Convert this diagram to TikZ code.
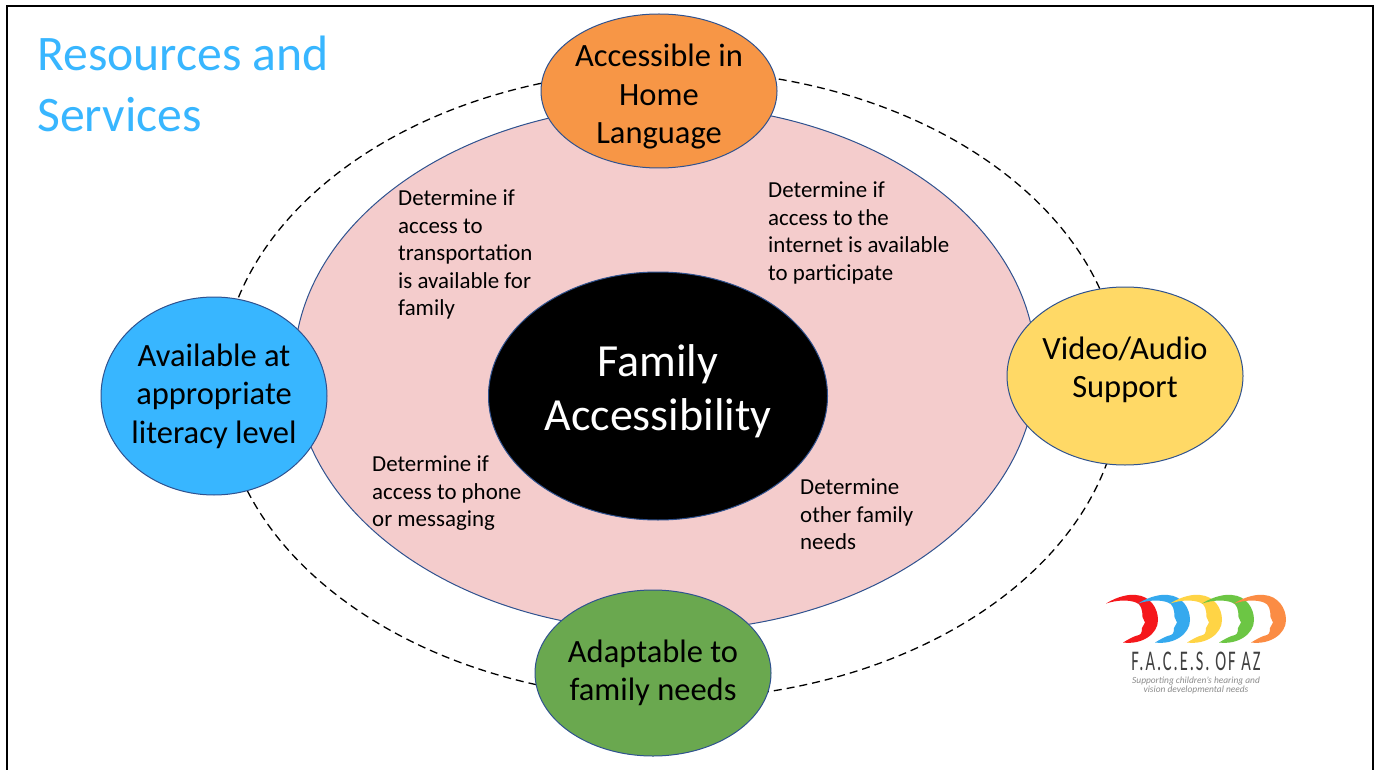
\documentclass[tikz,border=0pt]{standalone}
\usepackage{fontspec}
\setmainfont{Carlito}
\definecolor{pinkbg}{HTML}{F4CCCC}
\definecolor{skyb}{HTML}{38B6FF}
\definecolor{orangeb}{HTML}{F79646}
\definecolor{yellowb}{HTML}{FFD966}
\definecolor{greenb}{HTML}{6AA84F}
\definecolor{edgeb}{HTML}{2F528F}
\definecolor{logored}{HTML}{F5181C}
\definecolor{logoblue}{HTML}{35A9EE}
\definecolor{logoyellow}{HTML}{FFD445}
\definecolor{logogreen}{HTML}{6CC644}
\definecolor{logoorange}{HTML}{FB8C44}
\usetikzlibrary{shapes.geometric}
\tikzset{
  x=1pt,y=-1pt,
  blob/.style={draw=edgeb,line width=1pt,ellipse,inner sep=-30pt,align=center,text=black,font=\fontsize{32.5}{38.5}\selectfont},
  note/.style={anchor=north west,align=left,inner sep=0pt,text=black,font=\fontsize{22.9}{27.5}\selectfont},
}
\newcommand{\logoface}[2]{%
  \fill[#2,shift={(#1,0)}] (1106,603.5) .. controls (1118,596) and (1130,594) .. (1136,595)
    .. controls (1150,596) and (1158,608) .. (1158,620)
    .. controls (1158,634) and (1142,645) .. (1123,642.5)
    .. controls (1129,639) and (1134,636) .. (1139,635)
    .. controls (1142,634) and (1142,630) .. (1142,628)
    -- (1145,622.5) -- (1142.5,617)
    .. controls (1142.5,610) and (1141,604) .. (1136,602.5)
    .. controls (1128,599.5) and (1117,600) .. cycle;}
\begin{document}
\begin{tikzpicture}
\useasboundingbox (0,0) rectangle (1378,770);
\fill[white] (0,0) rectangle (1378,770);
\draw[line width=2pt,black] (7,775) -- (7,6) -- (1373,6) -- (1373,775);
\node[anchor=north west,inner sep=0pt,align=left,text=skyb,font=\fontsize{49.7}{61}\selectfont] (title) at (37,36) {Resources and\\Services};
\draw[dash pattern=on 8pt off 5pt,line width=1.3pt] (671,384.5) ellipse [x radius=450,y radius=314.5];
\node[draw=edgeb,line width=1pt,fill=pinkbg,ellipse,minimum width=742pt,minimum height=526pt,inner sep=0pt] (main) at (665,368) {};
\node[blob,fill=black,text=white,minimum width=339pt,minimum height=248pt,font=\fontsize{46}{54}\selectfont] (core) at (658,396) {Family\\Accessibility\rule[-17pt]{0pt}{0pt}};
\node[blob,fill=orangeb,minimum width=236pt,minimum height=154pt] (home) at (659,91) {\rule{0pt}{34pt}Accessible in\\Home\\Language};
\node[blob,fill=skyb,minimum width=226pt,minimum height=198pt] (lit) at (214,396) {Available at\\appropriate\\literacy level};
\node[blob,fill=yellowb,minimum width=236pt,minimum height=178pt] (vid) at (1125,376) {Video/Audio\\Support\rule[-18pt]{0pt}{0pt}};
\node[blob,fill=greenb,minimum width=236pt,minimum height=166pt] (adapt) at (653,673) {Adaptable to\\family needs};
\node[note] (n1) at (398,190) {Determine if\\access to\\transportation\\is available for\\family};
\node[note] (n2) at (768,182) {Determine if\\access to the\\internet is available\\to participate};
\node[note] (n3) at (372,456) {Determine if\\access to phone\\or messaging};
\node[note] (n4) at (800,479) {Determine\\other family\\needs};
\logoface{0}{logored}
\logoface{32}{logoblue}
\logoface{64}{logoyellow}
\logoface{96}{logogreen}
\logoface{128}{logoorange}
\node[inner sep=0pt,xscale=0.577,transform shape,text=black!75,font=\fontsize{28.5}{28.5}\selectfont] (lg) at (1196,661) {\addfontfeatures{LetterSpace=12}F.A.C.E.S. OF AZ};
\node[inner sep=0pt,align=center,text=black!45,font=\itshape\fontsize{9.4}{9}\selectfont] (lt) at (1196,685.5) {Supporting children's hearing and\\vision developmental needs};
\end{tikzpicture}
\end{document}
